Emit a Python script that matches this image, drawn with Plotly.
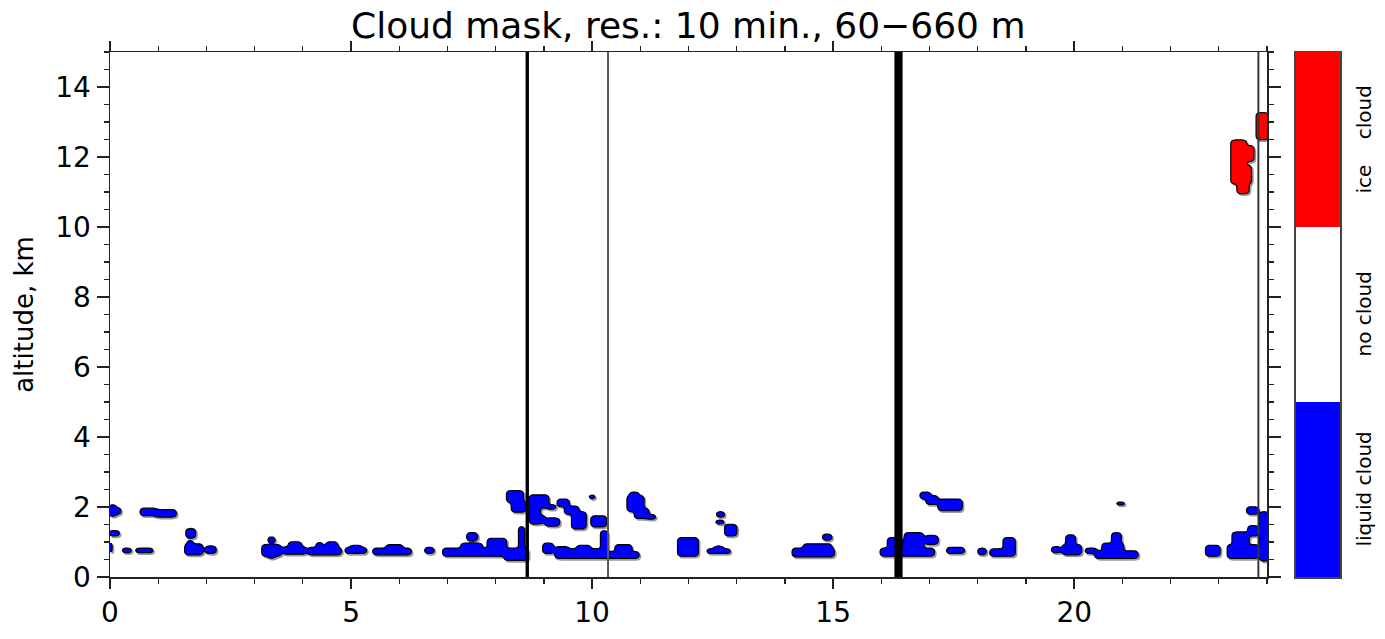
import numpy as np
import plotly.graph_objects as go

# ---------------- data ----------------
# liquid cloud occurrences: time start/end (h), base/top (km)
liq_t0 = [0.00, 0.12, 0.63, 0.95, 0.00, 0.00, 0.26, 0.53, 1.60, 1.57, 1.62, 1.98,
          3.16, 3.28, 3.28, 3.58, 3.72, 4.12, 4.28, 4.50, 4.88, 5.00, 5.47, 5.75, 6.55,
          6.92, 7.30, 7.42, 7.85, 8.20, 8.48, 8.25, 8.35, 8.72, 8.72, 8.90, 9.10, 9.04,
          9.28, 9.45, 9.58, 9.93, 10.00, 8.99, 9.24, 9.24, 9.70, 10.18, 10.32, 10.50,
          10.74, 10.80, 10.90, 11.15, 11.80, 12.60, 12.56, 12.77, 12.40, 12.55,
          14.16, 14.40, 14.80, 15.98, 16.15, 16.50, 16.92, 17.37, 18.02, 16.82, 16.95,
          17.20, 18.27, 18.55, 19.55, 19.76, 19.85, 20.24, 20.45, 20.60, 20.80, 20.86,
          22.73, 23.20, 23.30, 23.62, 23.60, 23.87]
liq_t1 = [0.12, 0.22, 0.95, 1.36, 0.18, 0.04, 0.43, 0.88, 1.77, 1.92, 1.70, 2.19,
          3.54, 3.40, 3.42, 4.06, 3.95, 4.78, 4.42, 4.70, 5.30, 5.20, 6.23, 6.05, 6.72,
          8.30, 7.70, 7.62, 8.20, 8.66, 8.58, 8.55, 8.60, 9.08, 8.90, 9.00, 9.24, 9.30,
          9.50, 9.70, 9.85, 10.06, 10.28, 9.18, 10.32, 9.50, 9.95, 10.30, 10.97, 10.80,
          11.05, 10.97, 11.15, 11.30, 12.19, 12.73, 12.73, 12.98, 12.87, 12.70,
          15.00, 14.95, 14.95, 17.08, 16.40, 16.85, 17.17, 17.70, 18.16, 17.00, 17.17,
          17.65, 18.75, 18.75, 19.72, 20.13, 20.00, 20.45, 21.32, 21.00, 20.95, 21.05,
          23.00, 23.81, 23.60, 23.81, 23.81, 24.00]
liq_h0 = [1.75, 1.82, 1.78, 1.73, 1.20, 0.70, 0.72, 0.72, 1.13, 0.65, 0.92, 0.70,
          0.62, 0.55, 1.00, 0.68, 0.85, 0.66, 0.82, 0.82, 0.70, 0.82, 0.66, 0.80, 0.70,
          0.62, 0.80, 1.05, 0.80, 0.50, 0.80, 2.15, 1.88, 2.00, 1.53, 1.55, 1.96, 1.48,
          2.04, 1.82, 1.40, 2.26, 1.45, 0.70, 0.55, 0.78, 0.78, 0.78, 0.55, 0.70,
          1.90, 2.30, 1.70, 1.68, 0.62, 1.74, 1.54, 1.20, 0.70, 0.78,
          0.60, 0.80, 1.08, 0.62, 0.80, 0.80, 0.95, 0.70, 0.66, 2.25, 2.10,
          1.92, 0.62, 0.78, 0.72, 0.66, 0.90, 0.70, 0.56, 0.72, 0.95, 2.07,
          0.62, 0.56, 0.90, 1.20, 1.82, 0.48]
liq_h1 = [2.05, 1.97, 1.95, 1.90, 1.31, 0.98, 0.80, 0.80, 1.36, 0.92, 1.02, 0.86,
          0.90, 0.62, 1.12, 0.85, 0.98, 0.82, 0.96, 0.98, 0.82, 0.88, 0.80, 0.90, 0.82,
          0.80, 0.95, 1.25, 1.08, 0.80, 1.42, 2.45, 2.15, 2.33, 2.00, 1.75, 2.04, 1.66,
          2.20, 2.00, 1.85, 2.32, 1.73, 0.95, 0.78, 0.85, 0.88, 1.30, 0.70, 0.90,
          2.30, 2.40, 1.95, 1.76, 1.10, 1.84, 1.60, 1.48, 0.78, 0.86,
          0.80, 0.92, 1.20, 0.80, 1.10, 1.25, 1.17, 0.82, 0.80, 2.40, 2.30,
          2.20, 0.78, 1.10, 0.84, 0.90, 1.18, 0.80, 0.72, 0.95, 1.25, 2.13,
          0.88, 0.90, 1.27, 1.45, 1.98, 1.85]

# ice cloud occurrences
ice_t0 = [23.27, 23.27, 23.27, 23.27, 23.40, 23.80]
ice_t1 = [23.55, 23.70, 23.55, 23.65, 23.62, 24.00]
ice_h0 = [12.30, 11.90, 11.75, 11.25, 10.97, 12.52]
ice_h1 = [12.47, 12.30, 11.90, 11.75, 11.25, 13.25]

# missing-data periods (h)
gap_t0 = [8.62, 10.31, 16.27, 23.80]
gap_t1 = [8.69, 10.35, 16.44, 23.84]
gap_col = ["black", "#555555", "black", "#333333"]

# colour bar classes
cls_labels = ["liquid cloud", "no cloud", "ice\u00a0\u00a0\u00a0\u00a0cloud"]
cls_colors = ["#0000FF", "#FFFFFF", "#FF0000"]

x_ticks = [0, 5, 10, 15, 20]
y_ticks = [0, 2, 4, 6, 8, 10, 12, 14]

# ---------------- grid ----------------
DT, DH = 0.025, 0.02
SIG_T, SIG_H, LEVEL = 0.04, 0.045, 0.35


def gauss(sig, step):
    n = int(np.ceil(3 * sig / step))
    k = np.exp(-0.5 * (np.arange(-n, n + 1) * step / sig) ** 2)
    return k / k.sum()


def field(t0s, t1s, h0s, h1s, tlo, thi, hlo, hhi):
    t = np.arange(tlo, thi + 1e-9, DT)
    h = np.arange(hlo, hhi + 1e-9, DH)
    m = np.zeros((h.size, t.size))
    for a, b, c, d in zip(t0s, t1s, h0s, h1s):
        m[np.ix_((h >= c - 1e-9) & (h <= d + 1e-9), (t >= a - 1e-9) & (t <= b + 1e-9))] = 1
    kt, kh = gauss(SIG_T, DT), gauss(SIG_H, DH)
    m = np.apply_along_axis(lambda r: np.convolve(r, kt, mode="same"), 1, m)
    m = np.apply_along_axis(lambda c: np.convolve(c, kh, mode="same"), 0, m)
    return t, h, np.round(m, 3)


lt, lh, liq = field(liq_t0, liq_t1, liq_h0, liq_h1, 0, 24, 0, 3.0)
it, ih, ice = field(ice_t0, ice_t1, ice_h0, ice_h1, 22.5, 24, 10.0, 14.0)

fig = go.Figure()
SH_X, SH_Y = 0.03, -0.045
# plotly's constraint fill shades the region failing the constraint,
# so "<" LEVEL shades the cloudy area
for t, h, m, col in ((lt, lh, liq, "#0000FF"), (it, ih, ice, "#FF0000")):
    fig.add_trace(go.Contour(
        x=t + SH_X, y=h + SH_Y, z=m, showscale=False, hoverinfo="skip",
        contours=dict(type="constraint", operation="<", value=LEVEL),
        fillcolor="#9a9a9a", line=dict(color="#9a9a9a", width=1.5, smoothing=1.3),
        xaxis="x", yaxis="y"))
    fig.add_trace(go.Contour(
        x=t, y=h, z=m, showscale=False, hoverinfo="skip",
        contours=dict(type="constraint", operation="<", value=LEVEL),
        fillcolor=col, line=dict(color="black", width=1.2, smoothing=1.3),
        xaxis="x", yaxis="y"))

# colour bar as a small heatmap
fig.add_trace(go.Heatmap(
    z=[[0], [1], [2]], x=[0], y=[0, 1, 2], zmin=0, zmax=2,
    colorscale=[[0, cls_colors[0]], [0.3333, cls_colors[0]], [0.3334, cls_colors[1]],
                [0.6666, cls_colors[1]], [0.6667, cls_colors[2]], [1, cls_colors[2]]],
    showscale=False, hoverinfo="skip", xaxis="x2", yaxis="y2"))

shapes = []
for a, b, c in zip(gap_t0, gap_t1, gap_col):
    shapes.append(dict(type="rect", xref="x", yref="y domain", x0=a, x1=b, y0=0, y1=1,
                       fillcolor=c, line=dict(width=0), layer="above"))

annotations = []
for i, lab in enumerate(cls_labels):
    annotations.append(dict(text=lab, xref="paper", yref="y2", x=1.0187, y=i,
                            textangle=-90, showarrow=False, xanchor="center",
                            yanchor="middle",
                            font=dict(family="DejaVu Sans", size=20, color="black")))
annotations.append(dict(text="Cloud mask, res.: 10 min., 60\u2212660 m", xref="paper",
                        yref="paper", x=0.47, y=1.0, yshift=27, showarrow=False,
                        xanchor="center", yanchor="middle",
                        font=dict(family="DejaVu Sans", size=36, color="black")))

axis_common = dict(showline=True, linecolor="#222222", linewidth=1.5, mirror="allticks",
                   ticks="outside", tickcolor="#222222", tickwidth=1.5,
                   showgrid=False, zeroline=False, automargin=False,
                   tickfont=dict(family="DejaVu Sans", size=28, color="black"))

fig.update_layout(
    width=1385, height=639,
    margin=dict(l=110, r=45, t=52, b=62, autoexpand=False),
    paper_bgcolor="white", plot_bgcolor="white",
    showlegend=False,
    shapes=shapes, annotations=annotations,
    xaxis=dict(domain=[0, 0.9407], range=[0, 24], tickvals=x_ticks, ticklen=10,
               minor=dict(dtick=1, tick0=0, ticklen=5, ticks="outside",
                          tickcolor="#222222", tickwidth=1.2),
               **axis_common),
    yaxis=dict(domain=[0, 1], range=[0, 15], tickvals=y_ticks, ticklen=12,
               minor=dict(dtick=0.5, tick0=0, ticklen=5, ticks="outside",
                          tickcolor="#222222", tickwidth=1.2),
               title=dict(text="altitude, km", standoff=14,
                          font=dict(family="DejaVu Sans", size=26, color="black")),
               **axis_common),
    xaxis2=dict(domain=[0.9642, 1.0], anchor="y2", range=[-0.5, 0.5], showticklabels=False,
                ticks="", showline=True, mirror=True, linecolor="#444444", linewidth=1.5,
                showgrid=False, zeroline=False, automargin=False),
    yaxis2=dict(domain=[0, 1], anchor="x2", range=[-0.5, 2.5], showticklabels=False,
                ticks="", showline=True, mirror=True, linecolor="#444444", linewidth=1.5,
                showgrid=False, zeroline=False, automargin=False),
)

# remove the browser's default 8 px page margin so the figure fills the window
fig.write_html("out.html",
               config=dict(displayModeBar=False, staticPlot=True),
               post_script="document.body.style.margin='0px';"
                           "document.body.style.overflow='hidden';")
